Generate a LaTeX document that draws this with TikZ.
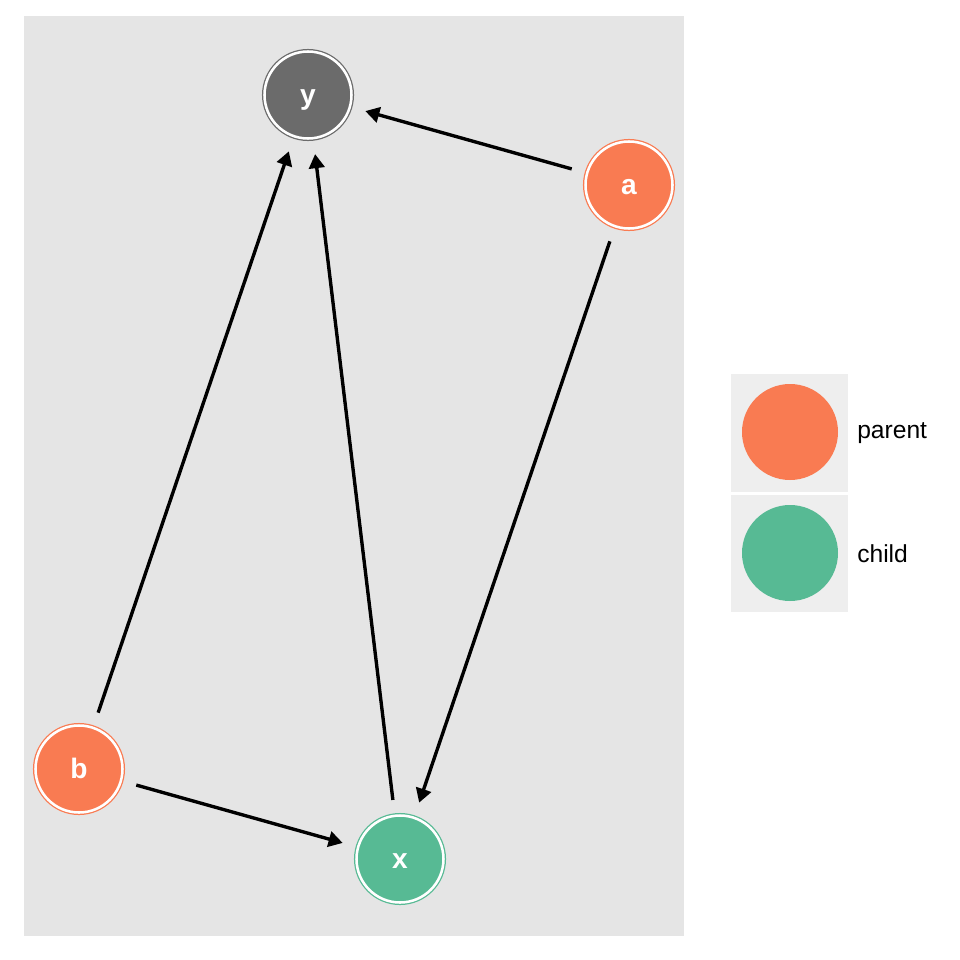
\documentclass[tikz,border=0pt]{standalone}
\usepackage{fontspec}
\setmainfont{Liberation Sans}
\usetikzlibrary{arrows.meta}
\definecolor{parentcol}{HTML}{F97B52}
\definecolor{childcol}{HTML}{57BA94}
\definecolor{outcol}{HTML}{6B6B6B}
\definecolor{panelgray}{HTML}{E5E5E5}
\definecolor{keygray}{HTML}{EEEEEE}
\tikzset{
    dagnode/.style={circle, inner sep=0pt, outer sep=0pt, minimum size=87*0.025cm,
        fill=#1, draw=#1, double=white, double distance=1.8pt, line width=0.9pt,
        text=white, text height=14pt, text depth=0pt,
        font=\fontsize{20}{24}\selectfont\bfseries},
    keydot/.style={circle, inner sep=0pt, minimum size=96*0.025cm, fill=#1},
    keylabel/.style={anchor=west, inner sep=0pt, font=\fontsize{17.5}{21}\selectfont},
    edge/.style={-{Triangle[length=10pt, width=11pt]}, line width=2.4pt,
        shorten <=0.4cm, shorten >=0.4cm}
}
\begin{document}
\begin{tikzpicture}[x=0.025cm, y=-0.025cm]
                \useasboundingbox[fill=white] (0,0) rectangle (960,960);
                \fill[panelgray] (24,16) rectangle (684,936);
                \node[dagnode=outcol] (y) at (308,95) {y};
                \node[dagnode=parentcol] (a) at (629,185) {a};
                \node[dagnode=parentcol] (b) at (79,769) {b};
                \node[dagnode=childcol] (x) at (400,859) {x};
                \draw[edge] (a) -- (y);
                \draw[edge] (b) -- (y);
                \draw[edge] (x) -- (y);
                \draw[edge] (a) -- (x);
                \draw[edge] (b) -- (x);
                % legend
                \fill[keygray] (731,374) rectangle (848,492);
                \fill[keygray] (731,495) rectangle (848,612);
                \node[keydot=parentcol] (kp) at (790,432) {};
                \node[keydot=childcol] (kc) at (790,553) {};
                \node[keylabel] (lp) at (857,433) {parent};
                \node[keylabel] (lc) at (857,554) {child};
            \end{tikzpicture}
\end{document}
